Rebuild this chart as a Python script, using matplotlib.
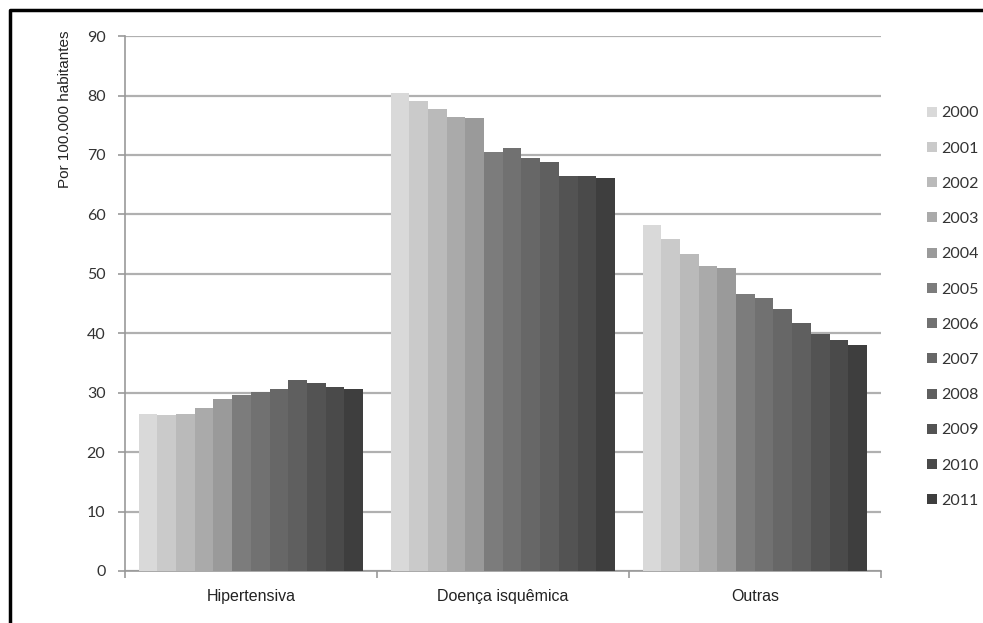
import numpy as np
import matplotlib.pyplot as plt
from matplotlib.lines import Line2D

categorias = ["Hipertensiva", "Doença isquêmica", "Outras"]
anos = ["2000", "2001", "2002", "2003", "2004", "2005",
        "2006", "2007", "2008", "2009", "2010", "2011"]

hipertensiva = [26.4, 26.2, 26.4, 27.4, 28.9, 29.6, 30.1, 30.7, 32.1, 31.7, 30.9, 30.7]
isquemica = [80.5, 79.1, 77.8, 76.4, 76.3, 70.5, 71.1, 69.5, 68.9, 66.5, 66.5, 66.2]
outras = [58.2, 55.8, 53.3, 51.3, 51.0, 46.6, 45.9, 44.1, 41.8, 39.8, 38.8, 38.1]

cores = ["#d9d9d9", "#cacaca", "#bababa", "#aaaaaa", "#9a9a9a", "#7c7c7c",
         "#717171", "#676767", "#5f5f5f", "#535353", "#4a4a4a", "#3e3e3e"]

valores = np.array([hipertensiva, isquemica, outras])

fig = plt.figure(figsize=(9.83, 6.23), dpi=100)
ax = fig.add_axes([0.127, 0.0835, 0.769, 0.8585])

n = len(anos)
largura = 0.89 / n
x = np.arange(len(categorias))
for i, ano in enumerate(anos):
    pos = x - 0.445 + largura * (i + 0.5)
    ax.bar(pos, valores[:, i], width=largura, color=cores[i], label=ano,
           edgecolor='none', zorder=3)

ax.set_xlim(-0.5, 2.5)
ax.set_ylim(0, 90)
ax.set_yticks(np.arange(0, 91, 10))
ax.yaxis.grid(True, color='#b0b0b0', linewidth=1.6, zorder=0)

ax.set_xticks(x)
ax.set_xticklabels(categorias, fontsize=11.5, family='Liberation Sans', color='#222222')
ax.set_xticks([-0.5, 0.5, 1.5, 2.5], minor=True)
ax.tick_params(axis='x', which='major', length=0, pad=13)
ax.tick_params(axis='x', which='minor', length=5, color='#999999', width=1.2)
ax.tick_params(axis='y', length=5, color='#999999', width=1.2, labelsize=11.5,
               labelcolor='#333333', pad=9)
for lab in ax.get_yticklabels():
    lab.set_family('Lato')

for s in ['top', 'right']:
    ax.spines[s].set_visible(False)
for s in ['left', 'bottom']:
    ax.spines[s].set_color('#999999')
    ax.spines[s].set_linewidth(1.2)

fig.text(65 / 983, 1 - 30 / 623, "Por 100.000 habitantes", rotation=90,
         va='top', ha='center', fontsize=11, family='Liberation Sans', color='#222222')

leg = fig.legend(loc='center left', bbox_to_anchor=(0.935, 0.507), frameon=False,
                 prop={'family': 'Lato', 'size': 11.5}, handlelength=0.6,
                 handleheight=0.6, handletextpad=0.3, labelspacing=1.33,
                 borderpad=0)
for t in leg.get_texts():
    t.set_color('#333333')

# moldura preta (esquerda e topo)
fig.add_artist(Line2D([10 / 983, 10 / 983, 1.0], [0.0, 1 - 10 / 623, 1 - 10 / 623],
                      transform=fig.transFigure, color='black', linewidth=2.5))

fig.savefig("out.png", dpi=100)
